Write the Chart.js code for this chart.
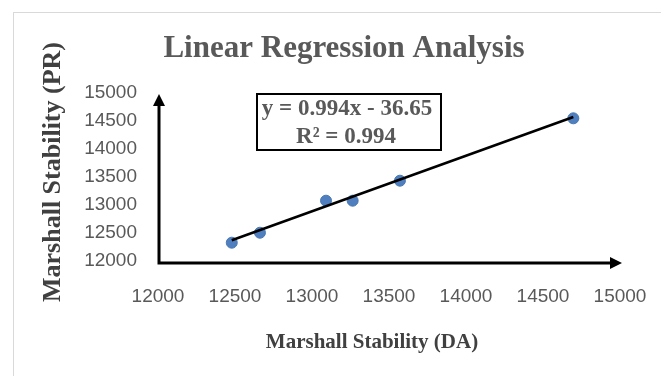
<!DOCTYPE html>
<html>
<head>
<meta charset="utf-8">
<script src="https://cdn.jsdelivr.net/npm/chart.js@4.4.0/dist/chart.umd.min.js"></script>
<style>
  html, body { margin: 0; padding: 0; background: #fff; }
</style>
</head>
<body>
<canvas id="myChart" width="661" height="376"></canvas>
<script>
// values
var stabilityDA = [12479, 12662, 13091, 13264, 13571, 14697];
var stabilityPR = [12327, 12505, 13077, 13077, 13434, 14548];
var trendX = [12479, 14697];
var trendY = [12370, 14572];
var tickValues = [12000, 12500, 13000, 13500, 14000, 14500, 15000];
var equationLines = ["y = 0.994x - 36.65", "R\u00b2 = 0.994"];
var chartTitle = "Linear Regression Analysis";
var xTitle = "Marshall Stability (DA)";
var yTitle = "Marshall Stability (PR)";

function toPoints(xs, ys) {
  return xs.map(function (x, i) { return { x: x, y: ys[i] }; });
}

var serif = '"Liberation Serif", "Times New Roman", serif';

var extras = {
  id: "extras",
  beforeDraw: function (chart) {
    var c = chart.ctx;
    c.save();
    c.fillStyle = "#fff";
    c.fillRect(0, 0, chart.width, chart.height);
    c.strokeStyle = "#d9d9d9";
    c.lineWidth = 1;
    c.strokeRect(13.5, 12.5, chart.width, chart.height);
    c.restore();
  },
  afterDraw: function (chart) {
    var c = chart.ctx;
    var a = chart.chartArea;
    var x0 = a.left + 1;
    var y0 = a.bottom + 2;
    c.save();

    // axes with arrows
    c.strokeStyle = "#000";
    c.fillStyle = "#000";
    c.lineWidth = 3;
    c.beginPath();
    c.moveTo(x0, a.top + 12);
    c.lineTo(x0, y0);
    c.lineTo(a.right - 10, y0);
    c.stroke();
    c.beginPath();
    c.moveTo(x0, a.top + 1);
    c.lineTo(x0 - 6, a.top + 13);
    c.lineTo(x0 + 6, a.top + 13);
    c.closePath();
    c.fill();
    c.beginPath();
    c.moveTo(a.right + 2, y0);
    c.lineTo(a.right - 10, y0 - 6);
    c.lineTo(a.right - 10, y0 + 6);
    c.closePath();
    c.fill();

    // equation box
    c.lineWidth = 2;
    c.strokeRect(257, 94, 184, 56);
    c.fillStyle = "#595959";
    c.font = "bold 23px " + serif;
    c.textAlign = "center";
    c.textBaseline = "alphabetic";
    c.fillText(equationLines[0], 347, 115);
    c.fillText(equationLines[1], 346, 143);

    // titles
    c.font = "bold 31px " + serif;
    c.fillText(chartTitle, 344, 57);
    c.fillStyle = "#404040";
    c.font = "bold 21px " + serif;
    c.fillText(xTitle, 372, 348);
    c.translate(60, 172);
    c.rotate(-Math.PI / 2);
    c.font = "bold 26px " + serif;
    c.fillText(yTitle, 0, 0);
    c.restore();
  }
};

var tickFont = { family: '"Liberation Sans", Arial, sans-serif', size: 19 };

var ctx = document.getElementById("myChart");
var myChart = new Chart(ctx, {
  type: "scatter",
  data: {
    datasets: [
      {
        type: "line",
        data: toPoints(trendX, trendY),
        borderColor: "#000",
        borderWidth: 2.5,
        pointRadius: 0,
        fill: false,
      },
      {
        data: toPoints(stabilityDA, stabilityPR),
        backgroundColor: "#4f7fbf",
        borderColor: "#4a78b4",
        borderWidth: 1,
        pointRadius: 5.5,
      },
    ],
  },
  plugins: [extras],
  options: {
    responsive: false,
    animation: false,
    layout: { padding: { top: 93, right: 41, left: 0, bottom: 0 } },
    plugins: {
      legend: { display: false },
      tooltip: { enabled: false },
    },
    scales: {
      x: {
        type: "linear",
        min: 12000,
        max: 15000,
        afterBuildTicks: function (s) {
          s.ticks = tickValues.map(function (v) { return { value: v }; });
        },
        afterFit: function (s) {
          s.height = 115;
          s.paddingLeft = 0;
          s.paddingRight = 0;
        },
        grid: { display: false, drawTicks: false },
        border: { display: false },
        ticks: {
          padding: 24,
          color: "#595959",
          font: tickFont,
          maxRotation: 0,
          callback: function (v) { return String(v); },
        },
      },
      y: {
        type: "linear",
        min: 12000,
        max: 15000,
        afterBuildTicks: function (s) {
          s.ticks = tickValues.map(function (v) { return { value: v }; });
        },
        afterFit: function (s) {
          s.width = 158;
          s.paddingTop = 0;
          s.paddingBottom = 0;
        },
        grid: { display: false, drawTicks: false },
        border: { display: false },
        ticks: {
          padding: 21,
          color: "#595959",
          font: tickFont,
          callback: function (v) { return String(v); },
        },
      },
    },
  },
});
</script>
</body>
</html>
